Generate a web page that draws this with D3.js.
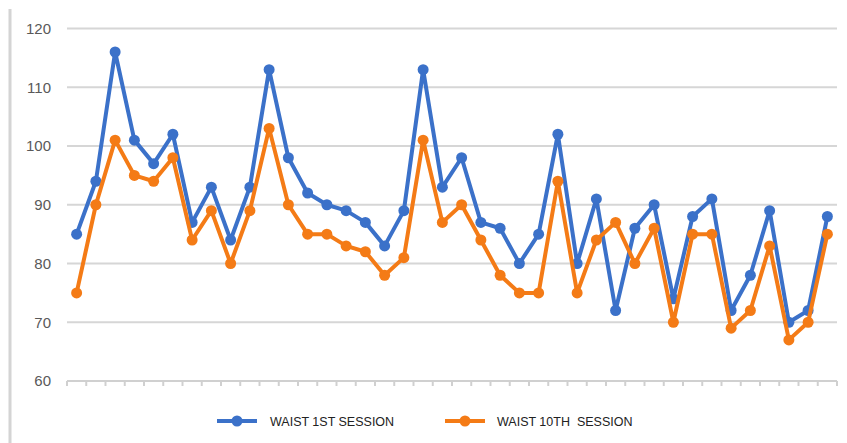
<!DOCTYPE html>
<html>
<head>
<meta charset="utf-8">
<script src="https://cdn.jsdelivr.net/npm/d3@7"></script>
<style>
  body { margin: 0; background: #fff; }
  svg { display: block; font-family: "Liberation Sans", Arial, sans-serif; }
</style>
</head>
<body>
<svg width="847" height="443"></svg>
<script>
// DATA
var seriesNames = ["WAIST 1ST SESSION", "WAIST 10TH  SESSION"];
var waist1st = [85, 94, 116, 101, 97, 102, 87, 93, 84, 93,
                113, 98, 92, 90, 89, 87, 83, 89, 113, 93,
                98, 87, 86, 80, 85, 102, 80, 91, 72, 86,
                90, 74, 88, 91, 72, 78, 89, 70, 72, 88];
var waist10th = [75, 90, 101, 95, 94, 98, 84, 89, 80, 89,
                 103, 90, 85, 85, 83, 82, 78, 81, 101, 87,
                 90, 84, 78, 75, 75, 94, 75, 84, 87, 80,
                 86, 70, 85, 85, 69, 72, 83, 67, 70, 85];
var yTicks = [60, 70, 80, 90, 100, 110, 120];
var colors = ["#3b71c9", "#f47b16"];

// VIEW
var svg = d3.select("svg");
var categories = d3.range(1, waist1st.length + 1);

var x = d3.scaleBand().domain(categories).range([67, 837]);
var y = d3.scaleLinear().domain([60, 120]).range([381, 28.5]);

// left frame edge
svg.append("line")
    .attr("x1", 10).attr("x2", 10)
    .attr("y1", 9).attr("y2", 443)
    .attr("stroke", "#d4d4d4").attr("stroke-width", 3);

// gridlines
svg.append("g").selectAll("line")
    .data(yTicks.filter(function(d) { return d > 60; }))
  .enter().append("line")
    .attr("x1", 67).attr("x2", 837)
    .attr("y1", function(d) { return y(d); })
    .attr("y2", function(d) { return y(d); })
    .attr("stroke", "#d6d6d6").attr("stroke-width", 2);

// y labels
svg.append("g").selectAll("text")
    .data(yTicks)
  .enter().append("text")
    .attr("x", 51)
    .attr("y", function(d) { return y(d); })
    .attr("dy", "0.36em")
    .attr("text-anchor", "end")
    .attr("font-size", "15px")
    .attr("fill", "#595959")
    .text(function(d) { return d; });

// x axis line with ticks at band edges
var xAxis = svg.append("g").attr("stroke", "#d0d0d0").attr("stroke-width", 2);
xAxis.append("line")
    .attr("x1", 67).attr("x2", 837)
    .attr("y1", y(60)).attr("y2", y(60));
var edges = categories.map(function(c) { return x(c); }).concat([x.range()[1]]);
xAxis.selectAll(".tick")
    .data(edges)
  .enter().append("line")
    .attr("class", "tick")
    .attr("x1", function(d) { return d; })
    .attr("x2", function(d) { return d; })
    .attr("y1", y(60)).attr("y2", y(60) + 5);

// series
var cx = function(d, i) { return x(categories[i]) + x.bandwidth() / 2; };
var line = d3.line()
    .x(cx)
    .y(function(d) { return y(d); });

[waist1st, waist10th].forEach(function(values, s) {
  var g = svg.append("g");
  g.append("path")
      .datum(values)
      .attr("fill", "none")
      .attr("stroke", colors[s])
      .attr("stroke-width", 4)
      .attr("stroke-linejoin", "round")
      .attr("d", line);
  g.selectAll("circle")
      .data(values)
    .enter().append("circle")
      .attr("cx", cx)
      .attr("cy", function(d) { return y(d); })
      .attr("r", 5.5)
      .attr("fill", colors[s]);
});

// legend
var legend = svg.append("g").selectAll("g")
    .data(seriesNames)
  .enter().append("g")
    .attr("transform", function(d, i) { return "translate(" + [217, 445][i] + ",421)"; });
legend.append("line")
    .attr("x1", 0).attr("x2", 40)
    .attr("stroke", function(d, i) { return colors[i]; })
    .attr("stroke-width", 4);
legend.append("circle")
    .attr("cx", 20).attr("r", 5.5)
    .attr("fill", function(d, i) { return colors[i]; });
legend.append("text")
    .attr("x", function(d, i) { return [53, 52][i]; })
    .attr("dy", "0.36em")
    .attr("font-size", "12.5px")
    .attr("fill", "#222")
    .style("white-space", "pre")
    .text(function(d) { return d; });
</script>
</body>
</html>
